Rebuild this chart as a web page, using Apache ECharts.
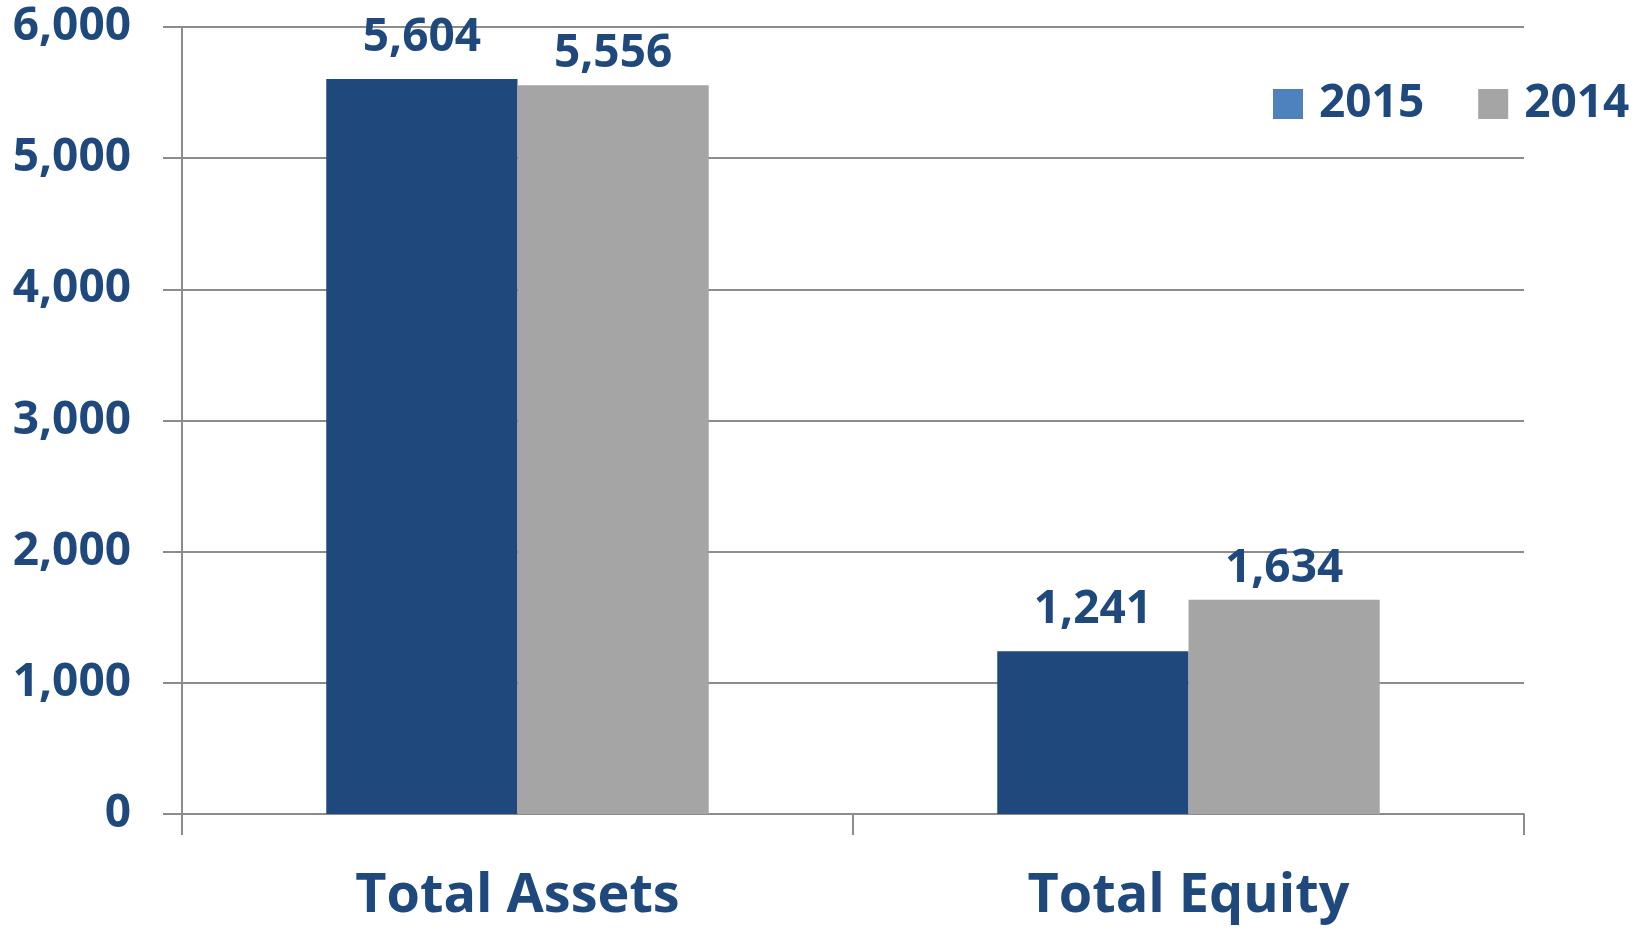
<!DOCTYPE html>
<html>
<head>
<meta charset="utf-8">
<script src="https://cdn.jsdelivr.net/npm/echarts@6/dist/echarts.min.js"></script>
<style>
  html, body { margin: 0; padding: 0; background: #fff; }
  #main { width: 1647px; height: 931px; }
</style>
</head>
<body>
<div id="main"></div>
<script>
// data
var categories = ["Total Assets", "Total Equity"];
var values2015 = [5604, 1241];
var values2014 = [5556, 1634];
var yTicks = [0, 1000, 2000, 3000, 4000, 5000, 6000];

var textBlue = "#1F497D";
var font = "Open Sans";

function fmt(v) {
  return Number(v).toLocaleString("en-US");
}

var myChart = echarts.init(document.getElementById("main"));
myChart.setOption({
  animation: false,
  grid: {
    left: 182,
    right: 123,
    top: 27,
    bottom: 117
  },
  legend: {
    left: 1268,
    top: 76,
    itemWidth: 30,
    itemHeight: 30,
    itemGap: 54,
    icon: "rect",
    textStyle: {
      color: textBlue,
      fontFamily: font,
      fontWeight: "bold",
      fontSize: 46,
      padding: [0, 0, 0, 11]
    },
    data: [
      { name: "2015", itemStyle: { color: "#4F81BD" } },
      { name: "2014", itemStyle: { color: "#A5A5A5" } }
    ]
  },
  xAxis: {
    type: "category",
    data: categories,
    axisLine: { lineStyle: { color: "#8C8C8C", width: 2 } },
    axisTick: {
      show: true,
      length: 21,
      lineStyle: { color: "#8C8C8C", width: 2 }
    },
    axisLabel: {
      margin: 56,
      color: textBlue,
      fontFamily: font,
      fontWeight: "bold",
      fontSize: 54
    }
  },
  yAxis: {
    type: "value",
    min: yTicks[0],
    max: yTicks[yTicks.length - 1],
    interval: 1000,
    axisLine: { show: true, lineStyle: { color: "#8C8C8C", width: 2 } },
    axisTick: {
      show: true,
      length: 19,
      lineStyle: { color: "#8C8C8C", width: 2 }
    },
    splitLine: { lineStyle: { color: "#8C8C8C", width: 2 } },
    axisLabel: {
      margin: 51,
      color: textBlue,
      fontFamily: font,
      fontWeight: "bold",
      fontSize: 46,
      formatter: fmt
    }
  },
  series: [
    {
      name: "2015",
      type: "bar",
      data: values2015,
      barGap: "0%",
      barCategoryGap: "43%",
      itemStyle: { color: "#1F497D" },
      label: {
        show: true,
        position: "top",
        distance: 18,
        color: textBlue,
        fontFamily: font,
        fontWeight: "bold",
        fontSize: 46,
        formatter: function (p) { return fmt(p.value); }
      }
    },
    {
      name: "2014",
      type: "bar",
      data: values2014,
      barGap: "0%",
      barCategoryGap: "43%",
      itemStyle: { color: "#A5A5A5" },
      label: {
        show: true,
        position: "top",
        distance: 8,
        color: textBlue,
        fontFamily: font,
        fontWeight: "bold",
        fontSize: 46,
        formatter: function (p) { return fmt(p.value); }
      }
    }
  ]
});
</script>
</body>
</html>
